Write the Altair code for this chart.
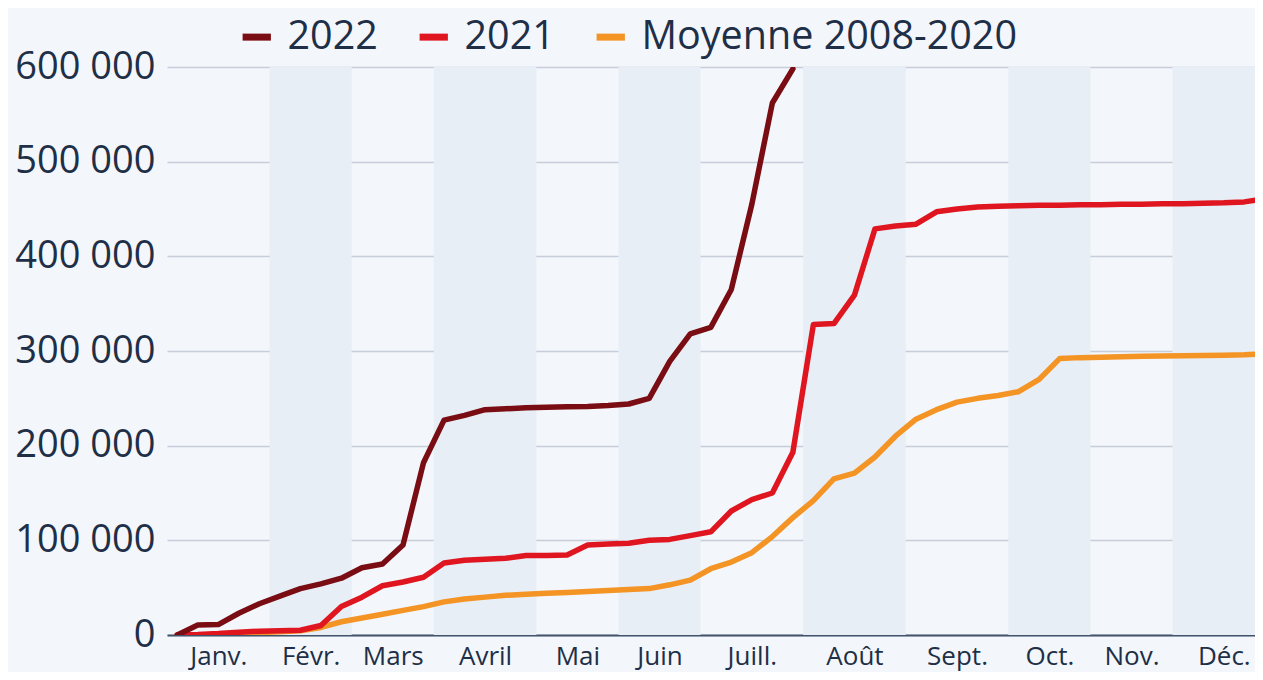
import altair as alt
import pandas as pd

# ---- data ----
weeks = list(range(1, 55))
s2022 = [0, 10500, 11000, 23000, 33000, 41000, 49000, 54000, 60000, 71000,
         75000, 95000, 182000, 227000, 232000, 238000, 239000, 240000, 240500, 241000,
         241500, 242500, 244000, 250000, 289000, 318000, 325000, 365000, 455000, 562000,
         598000]
s2021 = [0, 500, 1500, 3000, 4000, 4500, 5000, 10000, 30000, 40000,
         52000, 56000, 61000, 76000, 79000, 80000, 81000, 84000, 84000, 84500,
         95000, 96000, 97000, 100000, 101000, 105000, 109000, 131000, 143000, 150000,
         193000, 328000, 329000, 359000, 429000, 432000, 434000, 447000, 450000, 452000,
         453000, 453500, 454000, 454000, 454500, 454500, 455000, 455000, 455500, 455500,
         456000, 456500, 457500, 461000]
s_avg = [0, 200, 600, 1500, 2500, 3500, 4500, 8000, 14000, 18000,
         22000, 26000, 30000, 35000, 38000, 40000, 42000, 43000, 44000, 45000,
         46000, 47000, 48000, 49000, 53000, 58000, 70000, 77000, 87000, 104000,
         124000, 142000, 165000, 171000, 188000, 210000, 228000, 238000, 246000, 250000,
         253000, 257000, 270000, 292000, 293000, 293500, 294000, 294500, 294800, 295000,
         295300, 295600, 296000, 297000]

series_names = ["2022", "2021", "Moyenne 2008-2020"]
series_colors = ["#7a0c13", "#df1520", "#f39425"]

months = ["Janv.", "Févr.", "Mars", "Avril", "Mai", "Juin", "Juill.",
          "Août", "Sept.", "Oct.", "Nov.", "Déc."]
month_start = [0.5, 5.5, 9.5, 13.5, 18.5, 22.5, 26.5, 31.5, 36.5, 41.5, 45.5, 49.5]
month_end = [5.5, 9.5, 13.5, 18.5, 22.5, 26.5, 31.5, 36.5, 41.5, 45.5, 49.5, 54.5]
month_center = [3, 7.5, 11.5, 16, 20.5, 24.5, 29, 34, 39, 43.5, 47.5, 52]

y_ticks = [0, 100000, 200000, 300000, 400000, 500000, 600000]

# ---- tables ----
rows = []
for name, vals in [("Moyenne 2008-2020", s_avg), ("2021", s2021), ("2022", s2022)]:
    for w, v in zip(weeks, vals):
        rows.append({"semaine": w, "valeur": v, "serie": name})
lines_df = pd.DataFrame(rows)

bands_df = pd.DataFrame({
    "start": [month_start[i] for i in range(1, 12, 2)],
    "end": [month_end[i] for i in range(1, 12, 2)],
})

W, H = 1088, 568
TEXT = "#1e2f47"
FONT = "Open Sans"

x_scale = alt.Scale(domain=[0.5, 53.52], nice=False, zero=False)
y_scale = alt.Scale(domain=[0, 600000], nice=False)

label_expr = ("[" + ",".join("'%s'" % m for m in months) + "][indexof(["
              + ",".join(str(c) for c in month_center) + "], datum.value)]")

bands = alt.Chart(bands_df).mark_rect(color="#e8eef6", clip=True).encode(
    x=alt.X("start:Q", scale=x_scale,
            axis=alt.Axis(values=month_center, labelExpr=label_expr, title=None,
                          grid=False, ticks=False, domain=True,
                          domainColor="#42536b", domainWidth=2,
                          labelFontSize=26, labelColor=TEXT, labelFont=FONT,
                          labelPadding=8, labelFlush=False)),
    x2="end:Q",
)

lines = alt.Chart(lines_df).mark_line(strokeWidth=5.5, strokeJoin="round",
                                      strokeCap="round", clip=True).encode(
    x=alt.X("semaine:Q", scale=x_scale),
    y=alt.Y("valeur:Q", scale=y_scale,
            axis=alt.Axis(values=y_ticks, title=None, grid=True,
                          gridColor="#c5ceda", gridWidth=1.5,
                          ticks=False, domain=False,
                          labelExpr="replace(format(datum.value, ','), ',', ' ')",
                          labelFontSize=38, labelColor=TEXT, labelFont=FONT,
                          labelPadding=12)),
    color=alt.Color("serie:N",
                    scale=alt.Scale(domain=series_names, range=series_colors),
                    legend=alt.Legend(title=None, orient="none", direction="horizontal",
                                      legendX=70, legendY=-50,
                                      symbolType="stroke", symbolSize=800,
                                      symbolStrokeWidth=7, labelFontSize=39.5,
                                      labelColor=TEXT, labelFont=FONT,
                                      labelOffset=11, columnPadding=27,
                                      labelLimit=700, padding=0)),
    detail="serie:N",
)

chart = alt.layer(bands, lines).properties(
    width=W, height=H,
    background="#f3f6fa",
    padding={"left": 159, "top": 59, "right": 0, "bottom": 37},
    autosize=alt.AutoSizeParams(type="none"),
).configure_view(stroke=None)

chart.save("out.html", embed_options={"renderer": "svg", "actions": False})
